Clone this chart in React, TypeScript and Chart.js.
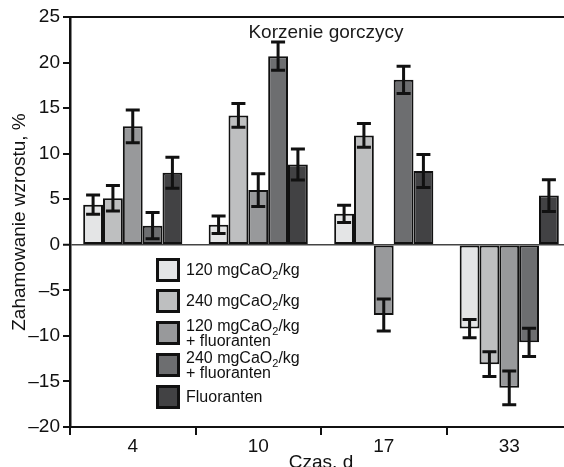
import React, { useEffect, useRef } from "react";
import { Chart, registerables } from "chart.js";

Chart.register(...registerables);

const categories = ["4", "10", "17", "33"];
const seriesNames = [
  "120 mgCaO2/kg",
  "240 mgCaO2/kg",
  "120 mgCaO2/kg + fluoranten",
  "240 mgCaO2/kg + fluoranten",
  "Fluoranten",
];
const values120 = [4.4, 2.2, 3.4, -9.2];
const errors120 = [1.05, 0.95, 0.95, 1.0];
const values240 = [5.1, 14.2, 12.0, -13.1];
const errors240 = [1.4, 1.3, 1.3, 1.35];
const values120F = [13.0, 6.0, -7.7, -15.7];
const errors120F = [1.8, 1.8, 1.75, 1.85];
const values240F = [2.1, 20.7, 18.1, -10.7];
const errors240F = [1.45, 1.55, 1.5, 1.55];
const valuesF = [7.9, 8.8, 8.1, 5.4];
const errorsF = [1.7, 1.7, 1.8, 1.75];

const seriesValues = [values120, values240, values120F, values240F, valuesF];
const seriesErrors = [errors120, errors240, errors120F, errors240F, errorsF];
const colors = ["#e4e5e6", "#bebfc0", "#98999b", "#6d6e70", "#424244"];

const yMin = -20;
const yMax = 25;
const yStep = 5;

const titleText = "Korzenie gorczycy";
const xTitle = "Czas, d";
const yTitle = "Zahamowanie wzrostu, %";

const FONT = "'Liberation Sans', Arial, Helvetica, sans-serif";

const errorBarPlugin = {
  id: "errorBars",
  afterDatasetsDraw(chart: any) {
    const { ctx } = chart;
    const y = chart.scales.y;
    chart.data.datasets.forEach((ds: any, i: number) => {
      const meta = chart.getDatasetMeta(i);
      const errs = seriesErrors[i];
      meta.data.forEach((bar: any, j: number) => {
        const v = ds.data[j];
        const e = errs[j];
        const yTop = y.getPixelForValue(v + e);
        const yBot = y.getPixelForValue(v - e);
        const cap = 7;
        ctx.save();
        ctx.strokeStyle = "#111";
        ctx.lineWidth = 3;
        ctx.beginPath();
        ctx.moveTo(bar.x, yTop);
        ctx.lineTo(bar.x, yBot);
        ctx.moveTo(bar.x - cap, yTop);
        ctx.lineTo(bar.x + cap, yTop);
        ctx.moveTo(bar.x - cap, yBot);
        ctx.lineTo(bar.x + cap, yBot);
        ctx.stroke();
        ctx.restore();
      });
    });
  },
};

const framePlugin = {
  id: "frameAndTitle",
  afterDraw(chart: any) {
    const { ctx, chartArea } = chart;
    ctx.save();
    ctx.strokeStyle = "#111";
    ctx.lineWidth = 2;
    ctx.beginPath();
    ctx.moveTo(chartArea.left - 1, chartArea.top);
    ctx.lineTo(chartArea.right + 2, chartArea.top);
    ctx.stroke();
    ctx.fillStyle = "#1a1a1a";
    ctx.font = `19px ${FONT}`;
    ctx.textAlign = "center";
    ctx.textBaseline = "alphabetic";
    ctx.fillText(titleText, chartArea.left + 256, chartArea.top + 21);
    ctx.restore();
  },
};

function LegendOverlay() {
  const rows = [
    { top: 258, lines: [["120 mgCaO", "2", "/kg"]] },
    { top: 289, lines: [["240 mgCaO", "2", "/kg"]] },
    { top: 321, lines: [["120 mgCaO", "2", "/kg"], ["+ fluoranten"]] },
    { top: 353, lines: [["240 mgCaO", "2", "/kg"], ["+ fluoranten"]] },
    { top: 385, lines: [["Fluoranten"]] },
  ];
  return (
    <>
      {rows.map((r, i) => (
        <div
          key={i}
          style={{
            position: "absolute",
            left: 156,
            top: r.top,
            height: 24,
            display: "flex",
            alignItems: "center",
            fontFamily: FONT,
            fontSize: 16,
            color: "#111",
            whiteSpace: "nowrap",
          }}
          title={seriesNames[i]}
        >
          <div
            style={{
              width: 24,
              height: 24,
              boxSizing: "border-box",
              border: "3px solid #111",
              background: colors[i],
              marginRight: 6,
              flex: "none",
            }}
          />
          <div style={{ lineHeight: r.lines.length > 1 ? "13px" : "18px" }}>
            {r.lines.map((ln, k) => (
              <div key={k}>
                {ln[0]}
                {ln.length > 1 && (
                  <span
                    style={{
                      fontSize: 11,
                      position: "relative",
                      top: 4,
                    }}
                  >
                    {ln[1]}
                  </span>
                )}
                {ln.length > 2 && ln[2]}
              </div>
            ))}
          </div>
        </div>
      ))}
    </>
  );
}

export default function App() {
  const canvasRef = useRef<HTMLCanvasElement | null>(null);

  useEffect(() => {
    if (!canvasRef.current) return;
    const chart = new Chart(canvasRef.current, {
      type: "bar",
      data: {
        labels: categories,
        datasets: seriesValues.map((vals, i) => ({
          label: seriesNames[i],
          data: vals,
          backgroundColor: colors[i],
          borderColor: "#111",
          borderWidth: 2,
          borderSkipped: false,
          categoryPercentage: 0.79,
          barPercentage: 1.0,
        })),
      },
      options: {
        responsive: true,
        maintainAspectRatio: false,
        animation: false,
        events: [],
        layout: { padding: { top: 17, right: 2, left: 0, bottom: 0 } },
        plugins: {
          legend: { display: false },
          tooltip: { enabled: false },
          title: { display: false },
        },
        scales: {
          x: {
            type: "category",
            offset: true,
            grid: {
              offset: true,
              drawOnChartArea: false,
              drawTicks: true,
              tickLength: 8,
              color: "#111",
              lineWidth: 2,
            },
            border: { display: true, color: "#111", width: 2 },
            ticks: {
              color: "#111",
              padding: 0,
              font: { family: FONT, size: 19 },
            },
            title: {
              display: true,
              text: xTitle,
              color: "#111",
              font: { family: FONT, size: 19 },
              padding: { top: 0, bottom: 0 },
            },
            afterFit: (s: any) => {
              s.height = 47;
            },
          },
          y: {
            min: yMin,
            max: yMax,
            grid: {
              drawOnChartArea: true,
              drawTicks: true,
              tickLength: 7,
              color: (c: any) => (c.tick && c.tick.value === 0 ? "#444" : "rgba(0,0,0,0)"),
              lineWidth: (c: any) => (c.tick && c.tick.value === 0 ? 1.5 : 0),
              tickColor: "#111",
              tickWidth: 2,
            },
            border: { display: true, color: "#111", width: 2.5 },
            ticks: {
              stepSize: yStep,
              color: "#111",
              padding: 3,
              font: { family: FONT, size: 19 },
              callback: (v: any) => (Number(v) < 0 ? "\u2013" + Math.abs(Number(v)) : String(v)),
            },
            title: {
              display: true,
              text: yTitle,
              color: "#111",
              font: { family: FONT, size: 19 },
              padding: { top: 8, bottom: 0 },
            },
            afterFit: (s: any) => {
              s.width = 70;
            },
          },
        },
      },
      plugins: [errorBarPlugin, framePlugin],
    } as any);
    return () => chart.destroy();
  }, []);

  return (
    <div
      style={{
        position: "fixed",
        left: 0,
        top: 0,
        width: 564,
        height: 467,
        overflow: "hidden",
        background: "#fff",
      }}
    >
      <div style={{ position: "absolute", left: 0, top: 0, width: 574, height: 474 }}>
        <canvas ref={canvasRef} />
      </div>
      <LegendOverlay />
    </div>
  );
}
